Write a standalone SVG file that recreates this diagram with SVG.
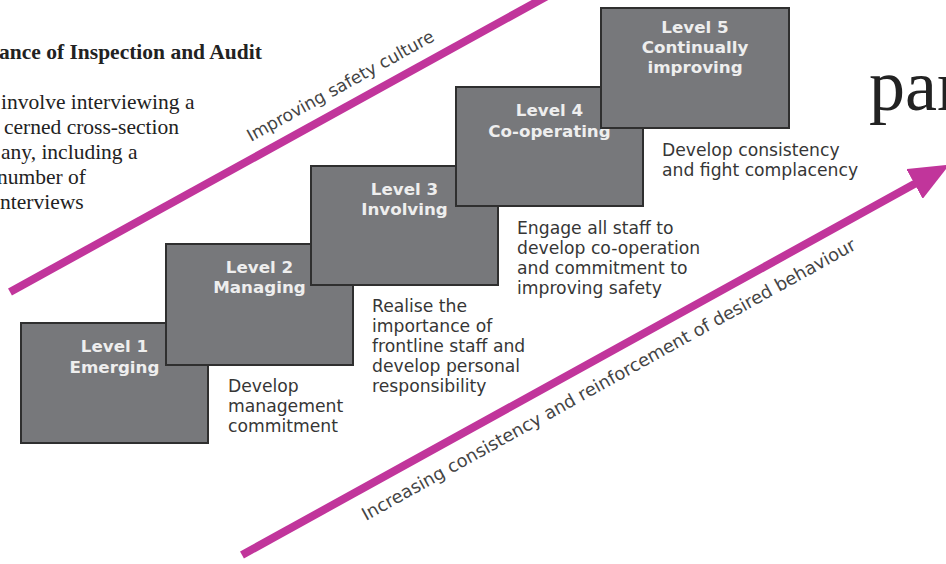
<svg xmlns="http://www.w3.org/2000/svg" width="946" height="564" viewBox="0 0 946 564">
<defs>
<style>
.box{fill:#77787b;stroke:#2f2f2f;stroke-width:2}
.bt{font-family:"DejaVu Sans","Open Sans",sans-serif;font-weight:bold;font-size:16.7px;fill:#eeeeee;text-anchor:middle}
.desc{font-family:"DejaVu Sans","Open Sans",sans-serif;font-size:17.2px;fill:#363636}
.diag{font-family:"DejaVu Sans","Open Sans",sans-serif;font-size:17.2px;fill:#444}
.diag2{font-family:"DejaVu Sans","Open Sans",sans-serif;font-size:17.8px;fill:#444}
.serif{font-family:"Liberation Serif","DejaVu Serif",serif;fill:#222}
.mag{stroke:#c1359b;stroke-width:8;fill:none}
</style>
<marker id="ah" markerUnits="userSpaceOnUse" markerWidth="40" markerHeight="34" refX="4" refY="17" orient="auto">
<path d="M0,0 L40,17 L0,34 Z" fill="#c1359b"/>
</marker>
</defs>
<rect width="946" height="564" fill="#ffffff"/>

<g id="page-text">
<text class="serif" x="-1" y="59" font-size="21.5" font-weight="bold">ance of Inspection and Audit</text>
<text class="serif" x="1" y="109" font-size="21.5">involve interviewing a</text>
<text class="serif" x="4" y="134" font-size="21.5">cerned cross-section</text>
<text class="serif" x="1" y="159" font-size="21.5">any, including a</text>
<text class="serif" x="-3" y="184" font-size="21.5">number of</text>
<text class="serif" x="0" y="209" font-size="21.5">nterviews</text>
<text class="serif" x="869" y="110" font-size="72">par</text>
</g>

<g id="connectors">
<line class="mag" x1="10" y1="292" x2="560" y2="-11"/>
<line class="mag" x1="242" y1="555" x2="918" y2="182" marker-end="url(#ah)"/>
<text class="diag" transform="translate(251,142) rotate(-28.9)">Improving safety culture</text>
<text class="diag2" transform="translate(366,521) rotate(-29)">Increasing consistency and reinforcement of desired behaviour</text>
</g>

<g id="level1">
<rect class="box" x="21" y="323" width="187" height="120"/>
<text class="bt" x="114.5" y="352">Level 1</text>
<text class="bt" x="114.5" y="373">Emerging</text>
<text class="desc" x="228" y="392">Develop</text>
<text class="desc" x="228" y="412">management</text>
<text class="desc" x="228" y="432">commitment</text>
</g>

<g id="level2">
<rect class="box" x="166" y="244" width="187" height="121"/>
<text class="bt" x="259.5" y="273">Level 2</text>
<text class="bt" x="259.5" y="293">Managing</text>
<text class="desc" x="372" y="312">Realise the</text>
<text class="desc" x="372" y="332">importance of</text>
<text class="desc" x="372" y="352">frontline staff and</text>
<text class="desc" x="372" y="372">develop personal</text>
<text class="desc" x="372" y="392">responsibility</text>
</g>

<g id="level3">
<rect class="box" x="311" y="166" width="187" height="119"/>
<text class="bt" x="404.5" y="195">Level 3</text>
<text class="bt" x="404.5" y="215">Involving</text>
<text class="desc" x="517" y="234">Engage all staff to</text>
<text class="desc" x="517" y="254">develop co-operation</text>
<text class="desc" x="517" y="274">and commitment to</text>
<text class="desc" x="517" y="294">improving safety</text>
</g>

<g id="level4">
<rect class="box" x="456" y="87" width="187" height="119"/>
<text class="bt" x="549.5" y="116">Level 4</text>
<text class="bt" x="549.5" y="137">Co-operating</text>
<text class="desc" x="662" y="156">Develop consistency</text>
<text class="desc" x="662" y="176">and fight complacency</text>
</g>

<g id="level5">
<rect class="box" x="601" y="8" width="188" height="120"/>
<text class="bt" x="695" y="33">Level 5</text>
<text class="bt" x="695" y="53">Continually</text>
<text class="bt" x="695" y="73">improving</text>
</g>
</svg>
